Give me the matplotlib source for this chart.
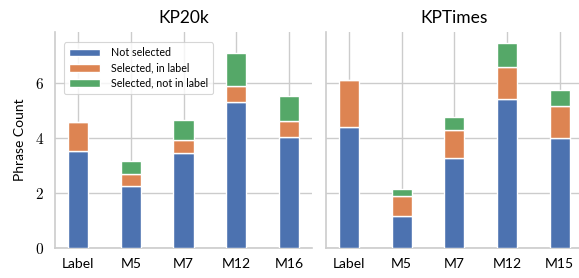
import numpy as np
import matplotlib
matplotlib.use("Agg")
import matplotlib.pyplot as plt
from matplotlib.ticker import FuncFormatter

# data
kp20k_models = ["Label", "M5", "M7", "M12", "M16"]
kp20k_not_selected = [3.54, 2.26, 3.46, 5.31, 4.04]
kp20k_sel_in_label = [1.05, 0.43, 0.46, 0.57, 0.56]
kp20k_sel_not_label = [0.0, 0.47, 0.73, 1.21, 0.92]

kptimes_models = ["Label", "M5", "M7", "M12", "M15"]
kptimes_not_selected = [4.41, 1.18, 3.26, 5.40, 4.01]
kptimes_sel_in_label = [1.68, 0.71, 1.03, 1.18, 1.14]
kptimes_sel_not_label = [0.0, 0.27, 0.48, 0.87, 0.58]

series_labels = ["Not selected", "Selected, in label", "Selected, not in label"]
colors = ["#4C72B0", "#DD8452", "#55A868"]

plt.rcParams["font.family"] = ["Lato", "DejaVu Sans"]
plt.rcParams["mathtext.fontset"] = "cm"

fig = plt.figure(figsize=(5.79, 2.78), dpi=100)
W, H = 579, 278
ax1 = fig.add_axes([55 / W, 29.7 / H, 257 / W, 216.6 / H])
ax2 = fig.add_axes([325.7 / W, 29.7 / H, 257 / W, 216.6 / H])

panels = [
    (ax1, "KP20k", kp20k_models, [kp20k_not_selected, kp20k_sel_in_label, kp20k_sel_not_label]),
    (ax2, "KPTimes", kptimes_models, [kptimes_not_selected, kptimes_sel_in_label, kptimes_sel_not_label]),
]

grid_col = "#cccccc"
for ax, title, models, stacks in panels:
    x = np.arange(len(models))
    bottom = np.zeros(len(models))
    for vals, lab, col in zip(stacks, series_labels, colors):
        vals = np.array(vals)
        ax.bar(x, vals, width=0.38, bottom=bottom, color=col, edgecolor="white",
               linewidth=1.0, label=lab, zorder=3)
        bottom += vals
    ax.set_xticks(x)
    ax.set_xticklabels(models, fontsize=10)
    ax.set_xlim(-0.44, 4.44)
    ax.set_ylim(0, 7.85)
    ax.set_yticks([0, 2, 4, 6])
    ax.set_title(title, fontsize=12.5, pad=6)
    ax.grid(True, color=grid_col, linewidth=1.0, zorder=0)
    ax.set_axisbelow(True)
    for s in ["top", "right"]:
        ax.spines[s].set_visible(False)
    for s in ["left", "bottom"]:
        ax.spines[s].set_color(grid_col)
        ax.spines[s].set_linewidth(1.2)
    ax.tick_params(length=0, pad=7)

ax1.yaxis.set_major_formatter(FuncFormatter(lambda v, p: r"$%d$" % v))
ax1.tick_params(axis="y", labelsize=11, pad=8)
ax1.set_ylabel("Phrase Count", fontsize=10, labelpad=6)
ax2.set_yticklabels([])

leg = ax1.legend(loc="upper left", fontsize=7.7, frameon=True, bbox_to_anchor=(0.015, 0.975),
                 handlelength=2.9, handleheight=0.7, borderpad=0.45, labelspacing=0.4,
                 handletextpad=1.0)
leg.get_frame().set_edgecolor(grid_col)
leg.get_frame().set_linewidth(0.8)

fig.savefig("out.png", dpi=100)
